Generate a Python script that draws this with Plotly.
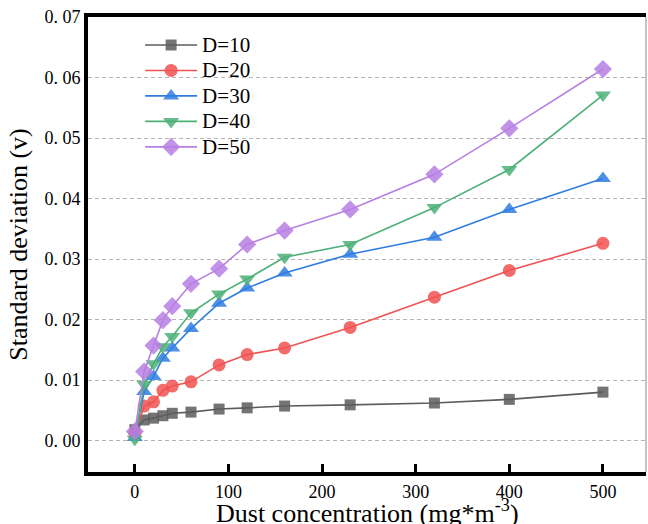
import plotly.graph_objects as go

conc = [0, 10, 20, 30, 40, 60, 90, 120, 160, 230, 320, 400, 500]
d10 = [0.0018, 0.0034, 0.0037, 0.0041, 0.0045, 0.0047, 0.0052, 0.0054, 0.0057, 0.0059, 0.0062, 0.0068, 0.0080]
d20 = [0.0012, 0.0057, 0.0064, 0.0083, 0.0090, 0.0097, 0.0125, 0.0142, 0.0153, 0.0187, 0.0237, 0.0281, 0.0326]
d30 = [0.0005, 0.0081, 0.0106, 0.0136, 0.0153, 0.0185, 0.0227, 0.0252, 0.0277, 0.0308, 0.0336, 0.0382, 0.0433]
d40 = [0.0002, 0.0093, 0.0127, 0.0155, 0.0172, 0.0211, 0.0242, 0.0267, 0.0303, 0.0324, 0.0385, 0.0448, 0.0571]
d50 = [0.0015, 0.0114, 0.0157, 0.0199, 0.0222, 0.0259, 0.0284, 0.0324, 0.0347, 0.0382, 0.0440, 0.0516, 0.0614]

names = ["D=10", "D=20", "D=30", "D=40", "D=50"]
series = [d10, d20, d30, d40, d50]
colors = ["#5c5c5c", "#f05252", "#2f7de1", "#4cb077", "#b67fe3"]
symbols = ["square", "circle", "triangle-up", "triangle-down", "diamond"]
sizes = [11, 13, 14, 14, 14]

yticks = [0.00, 0.01, 0.02, 0.03, 0.04, 0.05, 0.06, 0.07]
ytext = ["0. 00", "0. 01", "0. 02", "0. 03", "0. 04", "0. 05", "0. 06", "0. 07"]
xticks = [0, 100, 200, 300, 400, 500]
x_title = "Dust concentration (mg*m<sup>-3</sup>)"
y_title = "Standard deviation (v)"

fig = go.Figure()
for n, s, c, sym, sz in zip(names, series, colors, symbols, sizes):
    fig.add_trace(go.Scatter(
        x=conc, y=s, name='<span style="font-size:21px">%s</span>' % n, mode="lines+markers",
        line=dict(color=c, width=1.6),
        marker=dict(symbol=sym, size=sz, color=c, opacity=0.85, line=dict(width=0)),
    ))

FONT = "Liberation Serif, Times New Roman, serif"
fig.update_layout(
    width=648, height=524,
    margin=dict(l=88, r=2, t=17, b=52, autoexpand=False),
    paper_bgcolor="white", plot_bgcolor="white",
    font=dict(family=FONT, color="black"),
    showlegend=True,
    legend=dict(x=0.0934, y=0.9776, xanchor="left", yanchor="top",
                bgcolor="rgba(0,0,0,0)", borderwidth=0,
                font=dict(family=FONT, size=17.3, color="black"),
                itemwidth=52, tracegroupgap=0),
    xaxis=dict(range=[-50, 546], tickvals=xticks, ticks="inside", ticklen=8, tickwidth=3,
               tickcolor="black", showline=True, linewidth=4, linecolor="black", mirror=True,
               showgrid=False, zeroline=False, tickfont=dict(size=18, family=FONT), automargin=False),
    yaxis=dict(range=[-0.0052, 0.07], tickvals=yticks, ticktext=ytext, ticks="",
               showline=True, linewidth=4, linecolor="black", mirror=False,
               showgrid=True, gridcolor="#b4b4b4", gridwidth=1, griddash="4px,3px",
               zeroline=False, tickfont=dict(size=18, family=FONT), automargin=False,
               title=dict(text=y_title, font=dict(size=26, family=FONT), standoff=10)),
    shapes=[dict(type="line", xref="paper", yref="paper", x0=1, x1=1, y0=0, y1=1,
                 line=dict(color="#888888", width=1))],
    annotations=[dict(text=x_title, xref="paper", yref="paper", x=0.5, y=0,
                      xanchor="center", yanchor="middle", yshift=-39, showarrow=False,
                      font=dict(size=26, family=FONT, color="black"))],
)

fig.write_html("out.html", config={"displayModeBar": False},
               post_script="document.body.style.margin='0';")
